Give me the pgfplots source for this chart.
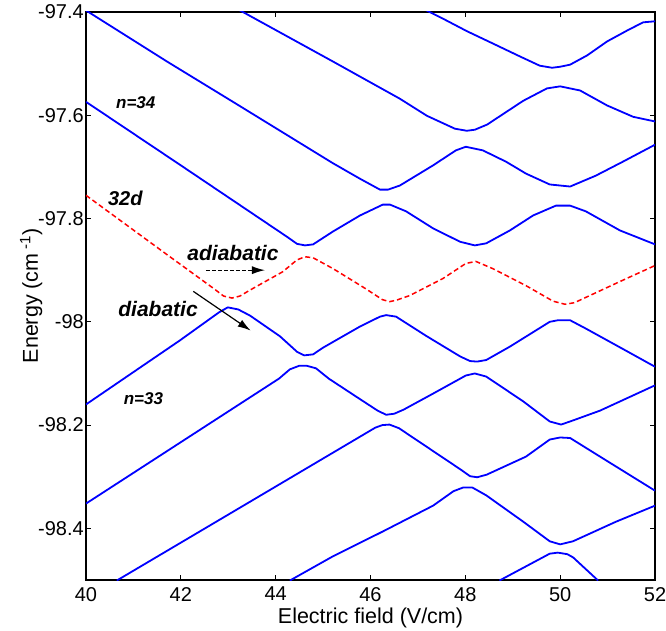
\documentclass[border=0pt]{standalone}
\usepackage{fontspec}
\setmainfont{Liberation Sans}
\usepackage{pgfplots}
\pgfplotsset{compat=1.18}
\usetikzlibrary{arrows.meta}

\begin{document}
\begin{tikzpicture}
\useasboundingbox (-86pt,-50pt) rectangle (580pt,580pt);
\begin{axis}[
  at={(0pt,0pt)}, anchor=south west,
  width=569pt, height=568pt, scale only axis,
  xmin=40, xmax=52, ymin=-98.5, ymax=-97.4,
  xtick={40,42,44,46,48,50,52},
  xticklabels={40,42,44,46,48,50,52},
  ytick={-98.4,-98.2,-98,-97.8,-97.6,-97.4},
  yticklabels={-98.4,-98.2,-98,-97.8,-97.6,-97.4},
  tick align=inside,
  major tick length=5pt,
  every tick/.style={black, line width=1pt},
  axis line style={line width=1.8pt},
  tick label style={font=\fontsize{20}{24}\selectfont},
  yticklabel style={inner xsep=2pt},
  xticklabel style={inner ysep=7pt},
  xlabel={Electric field (V/cm)},
  xlabel style={font=\fontsize{21.5}{26}\selectfont, at={(axis description cs:0.5,-0.0757)}, anchor=base},
  ylabel={Energy (cm\,\textsuperscript{-1})},
  ylabel style={font=\fontsize{21.5}{26}\selectfont, at={(axis description cs:-0.0844,0.5)}, anchor=base},
  every axis plot/.append style={line width=1.8pt, line join=round},
]

% adiabatic Stark levels
\addplot[blue] coordinates {
 (47.05,-97.391) (47.53,-97.413) (48.03,-97.437) (48.58,-97.461) (49.15,-97.486)
 (49.57,-97.504) (49.83,-97.508) (50.00,-97.506) (50.21,-97.502) (50.57,-97.484)
 (50.99,-97.457) (51.41,-97.436) (51.75,-97.420) (52.00,-97.418)};

\addplot[blue] coordinates {
 (43.15,-97.392) (45.21,-97.496) (46.62,-97.568) (47.19,-97.601) (47.78,-97.626)
 (48.03,-97.630) (48.20,-97.628) (48.46,-97.618) (49.22,-97.572) (49.72,-97.548)
 (50.00,-97.544) (50.42,-97.552) (50.99,-97.581) (51.54,-97.603) (52.00,-97.612)};

\addplot[blue] coordinates {
 (40.00,-97.397) (41.71,-97.496) (43.10,-97.574) (45.21,-97.693) (45.78,-97.723)
 (46.20,-97.744) (46.37,-97.744) (46.62,-97.736) (47.32,-97.697) (47.80,-97.668)
 (48.01,-97.661) (48.37,-97.668) (48.86,-97.690) (49.28,-97.713) (49.78,-97.734)
 (50.21,-97.738) (50.75,-97.717) (51.32,-97.690) (52.00,-97.657)};

\addplot[blue] coordinates {
 (40.00,-97.574) (42.00,-97.697) (44.25,-97.836) (44.45,-97.849) (44.62,-97.852)
 (44.79,-97.850) (45.21,-97.825) (45.78,-97.794) (46.26,-97.773) (46.41,-97.773)
 (46.75,-97.786) (47.32,-97.819) (47.89,-97.845) (48.20,-97.852) (48.44,-97.848)
 (48.94,-97.823) (49.43,-97.794) (49.91,-97.775) (50.21,-97.775) (50.54,-97.786)
 (51.26,-97.823) (52.00,-97.850)};

% 32d level
\addplot[red, line width=1.5pt, dash pattern=on 5pt off 3pt] coordinates {
 (40.00,-97.755) (41.71,-97.870) (42.70,-97.936) (42.90,-97.950) (43.08,-97.954)
 (43.25,-97.950) (43.45,-97.939) (44.15,-97.903) (44.45,-97.880) (44.62,-97.874)
 (44.79,-97.876) (45.21,-97.897) (45.90,-97.936) (46.25,-97.957) (46.40,-97.961)
 (46.55,-97.958) (46.83,-97.949) (47.53,-97.916) (48.01,-97.887) (48.22,-97.883)
 (48.58,-97.897) (49.28,-97.930) (49.85,-97.960) (50.10,-97.966) (50.30,-97.963)
 (51.26,-97.922) (52.00,-97.891)};

\addplot[blue] coordinates {
 (40.00,-98.160) (41.98,-98.036) (42.80,-97.982) (42.99,-97.972) (43.21,-97.976)
 (43.46,-97.988) (44.09,-98.028) (44.45,-98.058) (44.60,-98.065) (44.79,-98.063)
 (45.00,-98.050) (45.78,-98.009) (46.20,-97.990) (46.33,-97.987) (46.54,-97.990)
 (47.17,-98.027) (47.89,-98.067) (48.10,-98.076) (48.25,-98.077) (48.44,-98.074)
 (48.94,-98.048) (49.78,-98.000) (49.95,-97.997) (50.21,-97.997) (50.54,-98.013)
 (51.39,-98.056) (52.00,-98.087)};

\addplot[blue] coordinates {
 (40.00,-98.352) (44.07,-98.110) (44.30,-98.092) (44.50,-98.085) (44.65,-98.085)
 (44.85,-98.090) (45.12,-98.110) (45.70,-98.145) (46.15,-98.172) (46.33,-98.180)
 (46.50,-98.178) (46.70,-98.170) (47.32,-98.139) (48.01,-98.104) (48.20,-98.100)
 (48.44,-98.106) (49.22,-98.154) (49.78,-98.193) (50.02,-98.199) (50.27,-98.191)
 (50.84,-98.172) (52.00,-98.123)};

\addplot[blue] coordinates {
 (40.65,-98.501) (46.10,-98.205) (46.25,-98.200) (46.40,-98.199) (46.60,-98.206)
 (47.90,-98.286) (48.10,-98.299) (48.25,-98.301) (48.45,-98.296) (49.28,-98.261)
 (49.78,-98.228) (50.00,-98.224) (50.21,-98.225) (50.84,-98.261) (52.00,-98.327)};

\addplot[blue] coordinates {
 (44.30,-98.501) (45.21,-98.454) (46.26,-98.406) (47.32,-98.356) (47.75,-98.328)
 (47.95,-98.321) (48.15,-98.321) (48.44,-98.336) (49.22,-98.387) (49.78,-98.425)
 (50.00,-98.431) (50.27,-98.425) (51.18,-98.387) (52.00,-98.356)};

\addplot[blue] coordinates {
 (48.72,-98.501) (49.78,-98.449) (49.95,-98.447) (50.15,-98.450) (50.27,-98.456)
 (50.80,-98.501)};

% annotations
\node[font=\fontsize{17}{20}\selectfont\bfseries\itshape] at (axis cs:41.05,-97.575) {n=34};
\node[font=\fontsize{20}{24}\selectfont\bfseries\itshape] at (axis cs:40.83,-97.761) {32d};
\node[font=\fontsize{21}{25}\selectfont\bfseries\itshape] at (axis cs:43.10,-97.867) {adiabatic};
\node[font=\fontsize{21}{25}\selectfont\bfseries\itshape] at (axis cs:41.52,-97.976) {diabatic};
\node[font=\fontsize{17}{20}\selectfont\bfseries\itshape] at (axis cs:41.21,-98.149) {n=33};

\draw[-{Latex[length=13pt,width=8pt]}, line width=1.2pt, dash pattern=on 4pt off 2pt]
  (axis cs:42.53,-97.900) -- (axis cs:43.775,-97.900);
\draw[-{Latex[length=13pt,width=8pt]}, line width=1.2pt]
  (axis cs:42.263,-97.941) -- (axis cs:43.473,-98.017);
\end{axis}
\end{tikzpicture}
\end{document}
